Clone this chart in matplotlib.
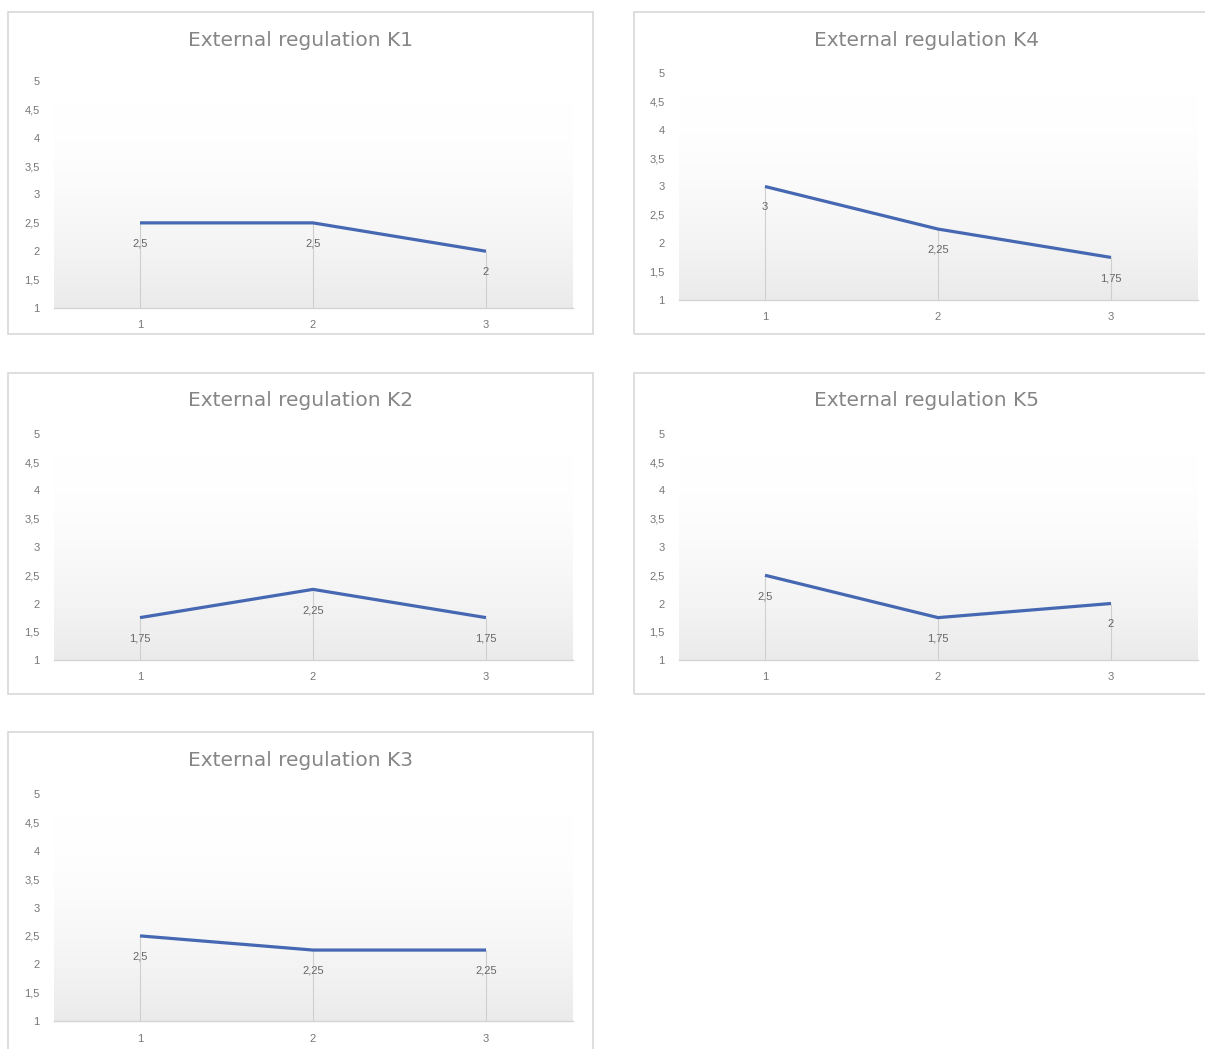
import numpy as np
import matplotlib
matplotlib.use("Agg")
import matplotlib.pyplot as plt
from matplotlib.patches import Rectangle

plt.rcParams['font.family'] = ['Liberation Sans', 'DejaVu Sans']

categories = [1, 2, 3]
titles = ["External regulation K1", "External regulation K4",
          "External regulation K2", "External regulation K5",
          "External regulation K3"]
k1 = [2.5, 2.5, 2.0]
k4 = [3.0, 2.25, 1.75]
k2 = [1.75, 2.25, 1.75]
k5 = [2.5, 1.75, 2.0]
k3 = [2.5, 2.25, 2.25]
series = [k1, k4, k2, k5, k3]
y_ticks = [1, 1.5, 2, 2.5, 3, 3.5, 4, 4.5, 5]

W, H = 1205, 1049
fig = plt.figure(figsize=(W / 100, H / 100), dpi=100)

# pixel layout: box left, top, right, bottom, axes left, right, y of 5, y of 1, title y
layout = [
    (8, 12, 593, 334, 53.5, 572.5, 81, 308, 40),
    (634, 12, 1219, 334, 678.5, 1197.5, 73, 300, 40),
    (8, 373, 593, 694, 53.5, 572.5, 434, 660, 401),
    (634, 373, 1219, 694, 678.5, 1197.5, 434, 660, 401),
    (8, 732, 593, 1054, 53.5, 572.5, 794, 1021, 760),
]

line_color = "#4668b2"
grad = np.linspace(0, 1, 256) ** 1.8
grad_img = np.ones((256, 1, 3)) * (1 - 0.08 * grad)[:, None, None]


def fmt(v):
    return ("%g" % v).replace(".", ",")


for (bl, bt, br, bb, al, ar, y5, y1, ty), title, vals in zip(layout, titles, series):
    fig.patches.append(Rectangle((bl / W, 1 - bb / H), (br - bl) / W, (bb - bt) / H,
                                 transform=fig.transFigure, fill=False,
                                 edgecolor="#d8d8d8", linewidth=1.2, zorder=-5))
    fig.text((bl + br) / 2 / W, 1 - ty / H, title,
             ha="center", va="center", fontsize=14.5, color="#868686",
             family=["DejaVu Sans"])

    ax = fig.add_axes([al / W, 1 - y1 / H, (ar - al) / W, (y1 - y5) / H])
    ax.set_xlim(0.5, 3.5)
    ax.set_ylim(1, 5)
    ax.patch.set_alpha(0)
    for s in ["top", "right", "left"]:
        ax.spines[s].set_visible(False)
    ax.spines["bottom"].set_color("#d4d4d4")
    ax.spines["bottom"].set_linewidth(1.0)

    ax.imshow(grad_img, extent=(0.5, 3.5, 1, 4.6), aspect="auto", origin="upper", zorder=0)

    ax.vlines(categories, 1, vals, color="#cfcfcf", linewidth=0.8, zorder=1)
    ax.plot(categories, vals, color=line_color, linewidth=2.3, zorder=3,
            solid_capstyle="butt")
    for x, v in zip(categories, vals):
        ax.annotate(fmt(v), (x, v), xytext=(0, -15), textcoords="offset points",
                    ha="center", va="center", fontsize=8, color="#666666", zorder=4)

    ax.set_xticks(categories)
    ax.set_xticklabels([str(c) for c in categories])
    ax.set_yticks(y_ticks)
    ax.set_yticklabels([fmt(t) for t in y_ticks])
    ax.tick_params(axis="both", length=0, labelsize=8, labelcolor="#777777")
    ax.tick_params(axis="y", pad=10)
    ax.tick_params(axis="x", pad=9)

fig.savefig("out.png", dpi=100, facecolor="white")
